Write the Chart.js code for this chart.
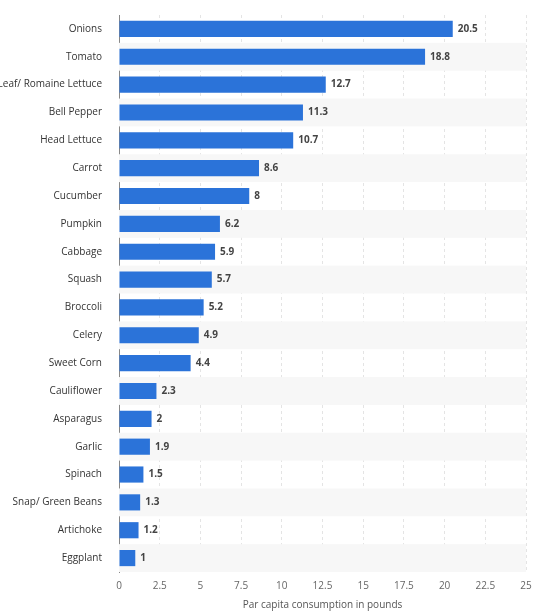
<!DOCTYPE html>
<html><head><meta charset="utf-8">
<script src="https://cdn.jsdelivr.net/npm/chart.js@4"></script>
<style>html,body{margin:0;padding:0;background:#fff}#w{width:541px;height:615px}</style>
</head><body><div id="w"><canvas id="c"></canvas></div>
<script>
const categories = ["Onions","Tomato","Leaf/ Romaine Lettuce","Bell Pepper","Head Lettuce","Carrot","Cucumber","Pumpkin","Cabbage","Squash","Broccoli","Celery","Sweet Corn","Cauliflower","Asparagus","Garlic","Spinach","Snap/ Green Beans","Artichoke","Eggplant"];
const values = [20.5,18.8,12.7,11.3,10.7,8.6,8,6.2,5.9,5.7,5.2,4.9,4.4,2.3,2,1.9,1.5,1.3,1.2,1];
const xTicks = [0,2.5,5,7.5,10,12.5,15,17.5,20,22.5,25];
const font = "'Open Sans', 'Noto Sans', sans-serif";

const bands = {
  id:'bands',
  beforeDatasetsDraw(chart){
    const {ctx, chartArea:a, scales:{y}} = chart;
    ctx.save();
    ctx.fillStyle = '#f7f7f7';
    categories.forEach((c,i)=>{
      if(i%2===1){
        const yc = y.getPixelForValue(i), h = (a.bottom-a.top)/categories.length;
        ctx.fillRect(a.left, yc-h/2, a.right-a.left, h);
      }
    });
    ctx.restore();
  }
};
const labels = {
  id:'labels',
  afterDatasetsDraw(chart){
    const {ctx} = chart;
    const meta = chart.getDatasetMeta(0);
    ctx.save();
    ctx.font = "bold 10px " + font;
    ctx.fillStyle = '#444';
    ctx.textBaseline = 'middle';
    meta.data.forEach((b,i)=>{ ctx.fillText(String(values[i]), b.x+5, b.y); });
    ctx.restore();
  }
};
new Chart(document.getElementById('c'), {
  type:'bar',
  data:{labels:categories, datasets:[{data:values, backgroundColor:'#2b73d9', borderWidth:0, barPercentage:0.58, categoryPercentage:1}]},
  options:{
    indexAxis:'y', responsive:true, maintainAspectRatio:false, animation:false,
    layout:{padding:{top:8,right:15,left:0,bottom:0}},
    plugins:{legend:{display:false}, tooltip:{enabled:false}},
    scales:{
      x:{min:0,max:25,
        afterBuildTicks(s){ s.ticks = xTicks.map(v=>({value:v})); },
        afterFit(s){ s.height = 43; },
        grid:{color:'#e4e4e4', drawTicks:false, tickBorderDash:[], },
        border:{display:false, dash:[3,3]},
        ticks:{color:'#666', font:{family:font,size:10}, padding:8},
        title:{display:true, text:'Par capita consumption in pounds', color:'#555', font:{family:font,size:10}, padding:{top:4}}
      },
      y:{
        afterFit(s){ s.width = 119; },
        grid:{display:false},
        border:{display:true, color:'#888', width:1},
        ticks:{color:'#333', font:{family:font,size:10}, padding:9}
      }
    }
  },
  plugins:[bands, labels]
});
</script></body></html>
